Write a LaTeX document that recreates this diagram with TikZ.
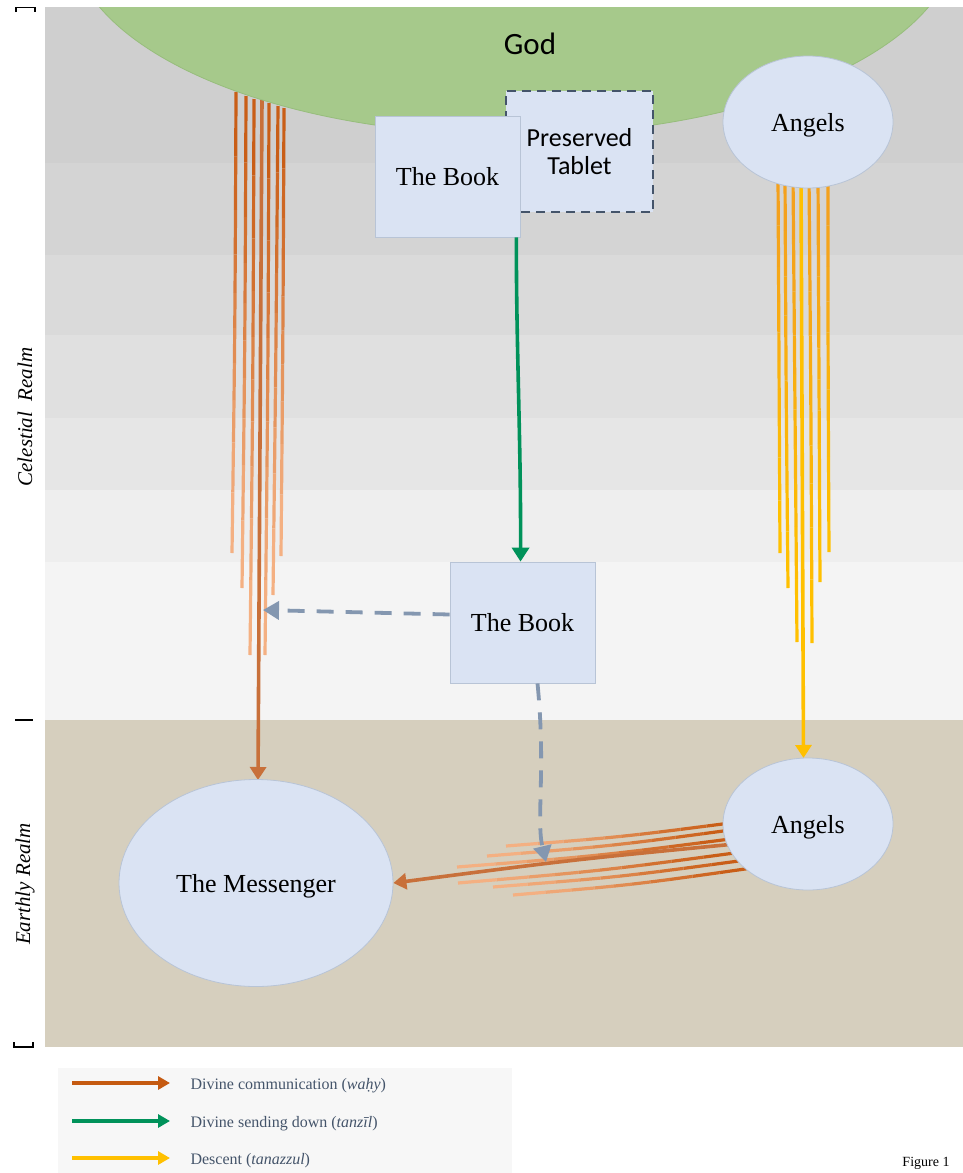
\documentclass[tikz,border=0pt]{standalone}
\usepackage{fontspec}
\setmainfont{Liberation Serif}
\newfontfamily\godfont{Carlito}
\usetikzlibrary{arrows.meta, shapes.geometric, calc}

\definecolor{bandA}{HTML}{CFCFCF}
\definecolor{bandB}{HTML}{D4D4D4}
\definecolor{bandC}{HTML}{DADADA}
\definecolor{bandD}{HTML}{E0E0E0}
\definecolor{bandE}{HTML}{E6E6E6}
\definecolor{bandF}{HTML}{EEEEEE}
\definecolor{bandG}{HTML}{F4F4F4}
\definecolor{earth}{HTML}{D6CFBE}
\definecolor{godgreen}{HTML}{A6C98B}
\definecolor{godline}{HTML}{97BD7C}
\definecolor{boxfill}{HTML}{DAE3F3}
\definecolor{boxline}{HTML}{B8C4D6}
\definecolor{slate}{HTML}{44546A}
\definecolor{tanzil}{HTML}{00925A}
\definecolor{wahydark}{HTML}{C95E17}
\definecolor{wahylight}{HTML}{F4B183}
\definecolor{wahymain}{HTML}{C8703A}
\definecolor{legwahy}{HTML}{C55A11}
\definecolor{desctop}{HTML}{F4A11D}
\definecolor{descent}{HTML}{FFC000}
\definecolor{dashblue}{HTML}{8497B0}
\definecolor{legendbg}{HTML}{F7F7F7}

% one ray of a bundle: from, control, to, start colour, end colour
\newcommand{\rayline}[5]{%
  \path #1 .. controls #2 .. #3
    \foreach \k in {0,...,10}{coordinate[pos=\k/10] (q\k)};
  \foreach \k [count=\n from 1] in {0,...,9}{
    \pgfmathtruncatemacro{\mix}{100-\k*11}
    \draw[ray, draw=#4!\mix!#5] (q\k) -- (q\n);
  }%
}

\begin{document}
\begin{tikzpicture}[x=1pt, y=-1pt,
  box/.style={rectangle, draw=boxline, fill=boxfill, line width=0.8pt, minimum width=145pt, minimum height=121pt, inner sep=0pt, align=center, font=\fontsize{26}{30}\selectfont},
  blob/.style={ellipse, draw=boxline, fill=boxfill, line width=0.8pt, inner sep=0pt, text depth=0pt, font=\fontsize{26}{30}\selectfont},
  ray/.style={line width=3.2pt, line join=round},
  wahy/.style={line width=3.6pt, draw=wahymain, -{Triangle[length=13pt, width=16pt]}},
  descend/.style={line width=3.6pt, draw=descent, -{Triangle[length=13pt, width=16pt]}},
  sending/.style={line width=3.6pt, draw=tanzil, -{Triangle[length=14pt, width=17pt]}},
  copyarrow/.style={line width=3.8pt, draw=dashblue, dash pattern=on 17pt off 12pt, -{Triangle[length=16pt, width=18pt]}},
  realm/.style={rotate=90, font=\fontsize{21}{24}\selectfont\itshape},
  legtext/.style={anchor=west, text=slate, font=\fontsize{16}{19}\selectfont},
  legarrow/.style={line width=3.2pt, -{Triangle[length=12pt, width=13pt]}}
]
\useasboundingbox (0,0) rectangle (963,1173);

% Celestial bands and earthly ground
\fill[bandA] (45,7) rectangle (963,163);
\fill[bandB] (45,163) rectangle (963,255);
\fill[bandC] (45,255) rectangle (963,335);
\fill[bandD] (45,335) rectangle (963,418);
\fill[bandE] (45,418) rectangle (963,490);
\fill[bandF] (45,490) rectangle (963,562);
\fill[bandG] (45,562) rectangle (963,720);
\fill[earth] (45,720) rectangle (963,1047);

% Realm brackets and labels
\draw[line width=1.2pt] (16,12) -- (16,7.5) -- (35,7.5) -- (35,12);
\draw[line width=1.2pt] (15,720) -- (33,720);
\draw[line width=1.2pt] (14,1042) -- (14,1047) -- (33,1047) -- (33,1042);
\node[realm] (celestial) at (25,417) {Celestial\ \ Realm};
\node[realm] (earthly) at (25,884) {Earthly Realm};

% Rays of divine communication from God
\rayline{(236,92)}{(235,330)}{(232,553)}{wahydark}{wahylight}
\rayline{(246,96)}{(245,340)}{(242,588)}{wahydark}{wahylight}
\rayline{(254,99)}{(253,380)}{(250,655)}{wahydark}{wahylight}
\rayline{(269,103)}{(268,380)}{(265,655)}{wahydark}{wahylight}
\rayline{(278,106)}{(276,350)}{(273,595)}{wahydark}{wahylight}
\rayline{(284,108)}{(283,330)}{(281,556)}{wahydark}{wahylight}
\coordinate (wahystart) at (262,100);
\draw[wahy] (wahystart) -- (258,780);

% God
\begin{scope}
  \clip (45,7) rectangle (963,720);
  \node[ellipse, draw=godline, fill=godgreen, line width=0.8pt, minimum width=886pt, minimum height=396pt, inner sep=0pt] (god) at (514,-63) {};
\end{scope}
\node[font=\godfont\fontsize{31}{34}\selectfont] (godlabel) at (530,44) {God};

% Rays of descent from the angels
\rayline{(778,175)}{(779,360)}{(780,553)}{desctop}{descent}
\rayline{(785,175)}{(786,380)}{(788,588)}{desctop}{descent}
\rayline{(793,175)}{(795,410)}{(797,642)}{desctop}{descent}
\rayline{(809,175)}{(811,410)}{(812,643)}{desctop}{descent}
\rayline{(818,175)}{(819,380)}{(820,582)}{desctop}{descent}
\rayline{(828,175)}{(828,360)}{(829,552)}{desctop}{descent}
\coordinate (descstart) at (801,175);
\draw[descend] (descstart) -- (803.5,758);
\node[blob, minimum width=170pt, minimum height=132pt] (angelsHigh) at (808,122) {Angels};

% The Book and the Preserved Tablet
\node[box, draw=slate, line width=2.5pt, dash pattern=on 9pt off 6pt, minimum width=147pt, font=\godfont\fontsize{26}{30}\selectfont] (tablet) at (579.5,151.5) {Preserved\\[-2pt]Tablet};
\node[box] (bookHigh) at (447.5,176.5) {The Book};
\node[box] (bookLow) at (522.5,622.5) {The Book};

\draw[sending] ([xshift=-4pt]bookHigh.south east) .. controls (516,340) and (521,440) .. ([xshift=-2pt]bookLow.north);

% Lower nodes
\node[blob, minimum width=274pt, minimum height=207pt] (messenger) at (256,883) {The Messenger};

% Rays of divine communication from the angels
\rayline{(738,822)}{(622,837)}{(506,846)}{wahydark}{wahylight}
\rayline{(738,829)}{(612,846)}{(487,856)}{wahydark}{wahylight}
\rayline{(738,838)}{(598,856)}{(457,867)}{wahydark}{wahylight}
\rayline{(742,852)}{(600,871)}{(458,883)}{wahydark}{wahylight}
\rayline{(746,860)}{(620,877)}{(493,887)}{wahydark}{wahylight}
\rayline{(752,868)}{(632,885)}{(513,895)}{wahydark}{wahylight}
\coordinate (wahyside) at (735,844);
\draw[wahy] (wahyside) .. controls (570,860) .. (messenger.east);

\node[blob, minimum width=170pt, minimum height=132pt] (angelsLow) at (808,824) {Angels};

% The Book passed on
\coordinate (wahyhit) at (263,610);
\coordinate (angelhit) at (546,862);
\draw[copyarrow] ([yshift=8pt]bookLow.west) -- (wahyhit);
\draw[copyarrow] ([xshift=15pt]bookLow.south) .. controls (546,770) and (536,820) .. (angelhit);

% Legend
\fill[legendbg] (58,1068) rectangle (512,1173);
\coordinate (lega) at (72,1083);
\coordinate (legb) at (72,1121);
\coordinate (legc) at (72,1158);
\node[legtext] (legwahytext) at (187,1086) {Divine communication (\textit{waḥy})};
\node[legtext] (legtanziltext) at (187,1124) {Divine sending down (\textit{tanzīl})};
\node[legtext] (legdesctext) at (187,1161) {Descent (\textit{tanazzul})};
\draw[legarrow, draw=legwahy] (lega) -- ++(98,0);
\draw[legarrow, draw=tanzil] (legb) -- ++(98,0);
\draw[legarrow, draw=descent] (legc) -- ++(98,0);

\node[font=\fontsize{14}{16}\selectfont] (figlabel) at (926,1163) {Figure 1};
\end{tikzpicture}
\end{document}
